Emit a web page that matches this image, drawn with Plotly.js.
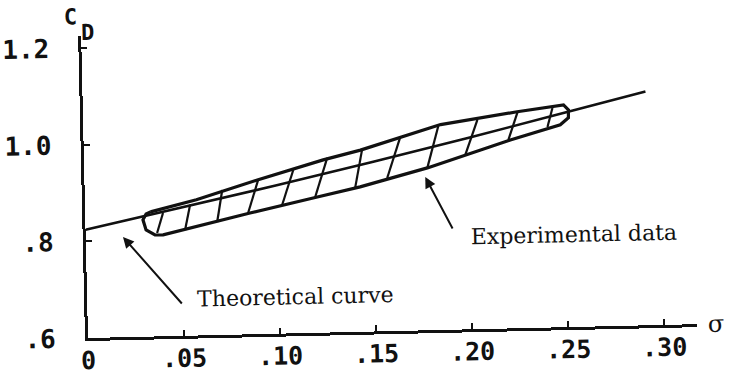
<!DOCTYPE html>
<html>
<head>
<meta charset="utf-8">
<script src="https://cdn.plot.ly/plotly-3.0.1.min.js"></script>
<style>
  html, body { margin: 0; padding: 0; background: #ffffff; overflow: hidden; }
  #chart { width: 729px; height: 374px; transform: rotate(-1.3deg); transform-origin: 88px 338px; }
</style>
</head>
<body>
<div id="chart"></div>
<script>
// ---- data ----
const sigmaTicks = [0, 0.05, 0.10, 0.15, 0.20, 0.25, 0.30];
const sigmaTickText = ['0', '.05', '.10', '.15', '.20', '.25', '.30'];
const cdTicks = [0.6, 0.8, 1.0, 1.2];
const cdTickText = ['.6', '.8', '1.0', '1.2'];

// theoretical curve
const sigmaTheory = [0, 0.05, 0.10, 0.15, 0.20, 0.25, 0.293];
const cdTheory = [0.824, 0.865, 0.907, 0.951, 0.996, 1.043, 1.084];

// outline of the experimental data band
const bandSigma = [0.034, 0.058, 0.090, 0.1245, 0.144, 0.165, 0.186, 0.226, 0.2486, 0.2502, 0.2527, 0.2526, 0.2483,
                   0.2221, 0.1786, 0.1434, 0.121, 0.0858, 0.0403, 0.0361, 0.0315, 0.030, 0.0317];
const bandCd = [0.858, 0.881, 0.919, 0.9575, 0.976, 1.000, 1.025, 1.048, 1.060, 1.060, 1.0495, 1.033, 1.019,
                0.990, 0.936, 0.900, 0.881, 0.851, 0.810, 0.810, 0.821, 0.842, 0.854];

// hatching strokes across the band (lower end -> upper end)
const hatchLowSigma = [0.0372, 0.0518, 0.0686, 0.0848, 0.1026, 0.1199, 0.1408, 0.1576, 0.1786, 0.1985, 0.2211, 0.2416];
const hatchLowCd = [0.814, 0.819, 0.834, 0.851, 0.866, 0.881, 0.898, 0.917, 0.936, 0.961, 0.990, 1.015];
const hatchHighSigma = [0.0405, 0.0547, 0.0716, 0.0904, 0.1088, 0.1266, 0.1449, 0.1649, 0.1848, 0.2052, 0.2261, 0.2444];
const hatchHighCd = [0.855, 0.871, 0.900, 0.919, 0.938, 0.9615, 0.978, 1.0015, 1.022, 1.033, 1.046, 1.054];

// annotation labels
const theoryLabel = 'Theoretical curve';
const experimentLabel = 'Experimental data';
const xAxisLabel = 'σ';
const yAxisLabelMain = 'C';
const yAxisLabelSub = 'D';

// ---- build traces ----
const ink = '#111111';
const closedSigma = bandSigma.concat([bandSigma[0]]);
const closedCd = bandCd.concat([bandCd[0]]);

const hx = [], hy = [];
for (let i = 0; i < hatchLowSigma.length; i++) {
  hx.push(hatchLowSigma[i], hatchHighSigma[i], null);
  hy.push(hatchLowCd[i], hatchHighCd[i], null);
}

const traces = [
  { x: sigmaTheory, y: cdTheory, mode: 'lines', line: { color: ink, width: 2.6 }, hoverinfo: 'skip' },
  { x: closedSigma, y: closedCd, mode: 'lines', line: { color: ink, width: 3.2 }, hoverinfo: 'skip' },
  { x: hx, y: hy, mode: 'lines', line: { color: ink, width: 2.2 }, connectgaps: false, hoverinfo: 'skip' }
];

const monoFontX = { family: 'DejaVu Sans Mono', size: 25, color: ink, weight: 'bold' };
const monoFontY = { family: 'DejaVu Sans Mono', size: 26, color: ink, weight: 'bold' };
const serifFont = { family: 'DejaVu Serif', size: 22, color: ink };

const layout = {
  width: 729, height: 374,
  margin: { l: 88, r: 32, t: 36, b: 36 },
  paper_bgcolor: '#ffffff', plot_bgcolor: '#ffffff',
  showlegend: false,
  xaxis: {
    range: [0, 0.317], tickvals: sigmaTicks, ticktext: sigmaTickText,
    showgrid: false, zeroline: false, showline: true, linecolor: ink, linewidth: 3,
    ticks: 'inside', ticklen: 6, tickwidth: 2, tickcolor: ink,
    tickfont: monoFontX, ticklabelstandoff: -2, fixedrange: true
  },
  yaxis: {
    range: [0.6, 1.225], tickvals: cdTicks, ticktext: cdTickText,
    showgrid: false, zeroline: false, showline: true, linecolor: ink, linewidth: 3,
    ticks: 'inside', ticklen: 6, tickwidth: 2, tickcolor: ink,
    tickfont: monoFontY, ticklabelstandoff: 24, fixedrange: true
  },
  annotations: [
    { x: 0.0194, y: 0.8075, ax: 0.0499, ay: 0.6638, xref: 'x', yref: 'y', axref: 'x', ayref: 'y',
      text: '', showarrow: true, arrowhead: 2, arrowsize: 1.1, arrowwidth: 2, arrowcolor: ink },
    { x: 0.1774, y: 0.9175, ax: 0.1914, ay: 0.8064, xref: 'x', yref: 'y', axref: 'x', ayref: 'y',
      text: '', showarrow: true, arrowhead: 2, arrowsize: 1.1, arrowwidth: 2, arrowcolor: ink },
    { x: 0.056, y: 0.676, xref: 'x', yref: 'y', text: theoryLabel, showarrow: false,
      xanchor: 'left', yanchor: 'middle', font: serifFont },
    { x: 0.1991, y: 0.791, xref: 'x', yref: 'y', text: experimentLabel, showarrow: false,
      xanchor: 'left', yanchor: 'middle', font: serifFont },
    { x: 1.031, y: 0.0, xref: 'paper', yref: 'paper', text: xAxisLabel, showarrow: false,
      xanchor: 'center', yanchor: 'middle', font: { family: 'DejaVu Serif', size: 24, color: ink } },
    { x: -0.017, y: 1.063, xref: 'paper', yref: 'paper', text: yAxisLabelMain, showarrow: false,
      xanchor: 'center', yanchor: 'middle', font: { family: 'DejaVu Sans Mono', size: 22, color: ink, weight: 'bold' } },
    { x: 0.010, y: 1.012, xref: 'paper', yref: 'paper', text: yAxisLabelSub, showarrow: false,
      xanchor: 'center', yanchor: 'middle', font: { family: 'DejaVu Sans Mono', size: 22, color: ink, weight: 'bold' } }
  ]
};

Plotly.newPlot('chart', traces, layout, { staticPlot: true, displayModeBar: false });
</script>
</body>
</html>
